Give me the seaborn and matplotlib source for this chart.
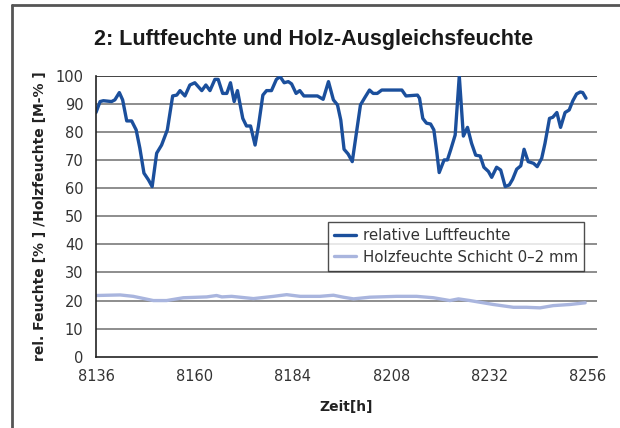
import matplotlib
matplotlib.use("Agg")
import matplotlib.pyplot as plt
import seaborn as sns
from matplotlib.lines import Line2D

# relative Luftfeuchte
hours_rh = [8136, 8137, 8137.8, 8139.8, 8140.6, 8141.7, 8142.5, 8143.5, 8144.7, 8145.8,
            8146.7, 8147.7, 8148.8, 8149.7, 8150.8, 8152, 8153.4, 8154.7, 8155.7, 8156.5,
            8157.7, 8158.9, 8160.1, 8161.8, 8162.8, 8163.8, 8165, 8165.8, 8166.9, 8167.9,
            8168.8, 8169.7, 8170.5, 8171.8, 8172.7, 8173.7, 8174.8, 8175.6, 8176.7, 8177.6,
            8178.8, 8180, 8180.9, 8181.9, 8182.9, 8183.7, 8184.8, 8185.7, 8186.7, 8189,
            8190, 8191.4, 8192.7, 8193.9, 8194.9, 8195.7, 8196.5, 8197.5, 8198.5, 8199.4,
            8200.5, 8201.6, 8202.7, 8203.6, 8204.6, 8205.7, 8210.6, 8211.6, 8214.4, 8214.9,
            8215.7, 8216.6, 8217.6, 8218.4, 8219.1, 8219.7, 8220.9, 8221.7, 8222.5, 8223.6,
            8224.6, 8225.6, 8226.6, 8227.6, 8228.6, 8229.7, 8230.6, 8231.7, 8232.5, 8233.7,
            8234.7, 8235.8, 8236.8, 8237.6, 8238.6, 8239.6, 8240.4, 8241.4, 8242.7, 8243.6,
            8244.7, 8245.5, 8246.6, 8247.4, 8248.4, 8249.3, 8250.4, 8251.4, 8252.3, 8253.2,
            8254.1, 8254.7, 8255.5]
rh = [87, 90.9, 91.2, 90.9, 91.5, 94.1, 91.5, 84.0, 84.0, 80.8,
      74.3, 65.4, 63.0, 60.6, 72.5, 75.4, 80.8, 92.9, 93.2, 94.8,
      92.9, 96.8, 97.6, 94.8, 96.8, 94.8, 98.8, 98.8, 93.8, 93.8,
      97.6, 90.9, 94.8, 84.9, 82.2, 82.2, 75.4, 82.0, 93.2, 94.8,
      94.8, 98.8, 99.8, 97.6, 98.0, 97.2, 93.8, 94.8, 92.9, 92.9,
      92.9, 91.7, 98.0, 91.5, 89.7, 84.3, 73.9, 72.2, 69.5, 78.6,
      89.7, 92.4, 95.0, 93.8, 93.8, 95.0, 95.0, 92.9, 93.2, 92.1,
      84.9, 83.2, 82.9, 80.8, 73.1, 65.6, 70.1, 70.1, 73.7, 79.0,
      100, 78.6, 81.7, 76.0, 71.8, 71.5, 67.5, 66.0, 63.9, 67.5,
      66.5, 60.6, 61.2, 63.2, 66.8, 68.0, 73.9, 69.5, 68.9, 67.7,
      70.7, 76.0, 84.9, 85.3, 87.0, 81.7, 87.0, 87.9, 91.2, 93.6,
      94.3, 94.1, 92.1]

# Holzfeuchte Schicht 0-2 mm
hours_wood = [8136, 8141.9, 8145.1, 8150, 8153.2, 8157.3, 8163, 8165.4, 8166.7, 8169.1,
              8174.4, 8179.3, 8182.5, 8185.8, 8190.6, 8193.9, 8196.3, 8198.8, 8202.8, 8209.3,
              8214.2, 8218.3, 8222.3, 8224.4, 8227.2, 8232.9, 8237.8, 8241, 8244.3, 8247.5,
              8251.6, 8255.3]
wood = [21.8, 22.0, 21.5, 20.0, 20.0, 21.0, 21.3, 21.8, 21.3, 21.5,
        20.7, 21.5, 22.1, 21.5, 21.5, 21.9, 21.2, 20.6, 21.2, 21.5,
        21.5, 21.0, 20.0, 20.6, 20.0, 18.6, 17.6, 17.6, 17.4, 18.2,
        18.6, 19.2]

x_ticks = [8136, 8160, 8184, 8208, 8232, 8256]
y_ticks = list(range(0, 101, 10))

sns.set_style("white")
plt.rcParams["font.family"] = ["DejaVu Sans"]

fig = plt.figure(figsize=(6.2, 4.28), dpi=100)
ax = fig.add_axes([0.1548, 0.1666, 0.963 - 0.1548, 0.8224 - 0.1666])

for y in y_ticks[1:-1]:
    ax.axhline(y, color="#7a7a7a", lw=1.2, zorder=0)
ax.axhline(100, color="#222222", lw=1.2, zorder=0)

sns.lineplot(x=hours_rh, y=rh, ax=ax, color="#1b4f9c", lw=2.4,
             label="relative Luftfeuchte")
sns.lineplot(x=hours_wood, y=wood, ax=ax, color="#a9b5de", lw=2.4,
             label="Holzfeuchte Schicht 0\u20132 mm")

ax.set_xlim(8136, 8258.2)
ax.set_ylim(0, 100)
ax.set_xticks(x_ticks)
ax.set_yticks(y_ticks)
ax.tick_params(axis="both", labelsize=10.5, colors="#222222", labelcolor="#333333")
ax.tick_params(axis="x", direction="inout", length=7, width=1, pad=5)
ax.tick_params(axis="y", direction="out", length=6, width=1, pad=3)

for s in ["top", "right"]:
    ax.spines[s].set_visible(False)
for s in ["left", "bottom"]:
    ax.spines[s].set_color("#222222")
    ax.spines[s].set_linewidth(1.2)

ax.set_xlabel("Zeit[h]", fontsize=10, fontweight="bold", color="#222222", labelpad=12)
ax.set_ylabel("rel. Feuchte [% ] /Holzfeuchte [M-% ]", fontsize=10,
              fontweight="bold", color="#222222", labelpad=6)

leg = ax.legend(loc="upper left", bbox_to_anchor=(0.463, 0.48), fontsize=10.8,
                frameon=True, fancybox=False, handlelength=1.5, handletextpad=0.45,
                borderpad=0.4, labelspacing=0.45, borderaxespad=0)
leg.get_frame().set_edgecolor("#222222")
leg.get_frame().set_linewidth(1)
for t in leg.get_texts():
    t.set_color("#333333")

fig.text(0.505, 0.907, "2: Luftfeuchte und Holz-Ausgleichsfeuchte",
         ha="center", va="center", fontsize=15.5, fontweight="bold",
         family=["Liberation Sans Narrow", "Liberation Sans", "DejaVu Sans"],
         color="#1a1a1a")

# outer frame (top and left edges)
fig.add_artist(Line2D([12 / 620, 1], [1 - 5 / 428, 1 - 5 / 428],
                      transform=fig.transFigure, color="#555555", lw=2))
fig.add_artist(Line2D([12 / 620, 12 / 620], [0, 1 - 5 / 428],
                      transform=fig.transFigure, color="#555555", lw=2))

fig.savefig("out.png", dpi=100)
